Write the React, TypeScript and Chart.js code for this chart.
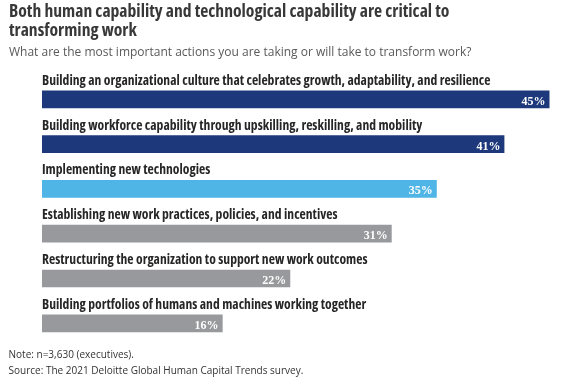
import React, { useEffect, useRef } from "react";
import { Chart, registerables } from "chart.js";

Chart.register(...registerables);

const titleLines = [
  "Both human capability and technological capability are critical to",
  "transforming work",
];
const subtitle =
  "What are the most important actions you are taking or will take to transform work?";
const categories = [
  "Building an organizational culture that celebrates growth, adaptability, and resilience",
  "Building workforce capability through upskilling, reskilling, and mobility",
  "Implementing new technologies",
  "Establishing new work practices, policies, and incentives",
  "Restructuring the organization to support new work outcomes",
  "Building portfolios of humans and machines working together",
];
const values = [45, 41, 35, 31, 22, 16];
const barColors = ["#1e397b", "#1e397b", "#4fb5e6", "#98999c", "#98999c", "#98999c"];
const notes = [
  "Note: n=3,630 (executives).",
  "Source: The 2021 Deloitte Global Human Capital Trends survey.",
];

const W = 577;
const H = 385;

function fit(ctx: CanvasRenderingContext2D, text: string, tpl: (s: number) => string, target: number) {
  ctx.font = tpl(100);
  const w = ctx.measureText(text).width;
  return (100 * target) / w;
}

const textPlugin = {
  id: "textPlugin",
  afterDatasetsDraw(chart: any) {
    const ctx: CanvasRenderingContext2D = chart.ctx;
    ctx.save();
    const cond = (weight: string) => (s: number) => `${weight} condensed ${s}px 'Open Sans'`;
    const reg = (s: number) => `normal ${s}px 'Open Sans'`;

    // title
    const ts = fit(ctx, titleLines[0], cond("bold"), 440.5);
    ctx.font = cond("bold")(ts);
    ctx.fillStyle = "#383838";
    ctx.textAlign = "left";
    ctx.textBaseline = "alphabetic";
    ctx.fillText(titleLines[0], 9, 16.7);
    ctx.fillText(titleLines[1], 9, 36);

    // subtitle
    const ss = fit(ctx, subtitle, reg, 462.5);
    ctx.font = reg(ss);
    ctx.fillStyle = "#595959";
    ctx.fillText(subtitle, 9, 55.7);

    // bar labels and values
    const meta = chart.getDatasetMeta(0);
    const ls = fit(ctx, categories[0], cond("bold"), 448.5);
    meta.data.forEach((bar: any, i: number) => {
      const top = bar.y - bar.height / 2;
      ctx.font = cond("bold")(ls);
      ctx.fillStyle = "#262626";
      ctx.textAlign = "left";
      ctx.fillText(categories[i], bar.base, top - 6);
      ctx.font = "bold 12px 'Liberation Serif'";
      ctx.fillStyle = "#ffffff";
      ctx.textAlign = "right";
      ctx.fillText(values[i] + "%", bar.x - 3.7, bar.y + 5.5);
    });

    // notes
    const ns = fit(ctx, notes[1], reg, 295);
    ctx.font = reg(ns);
    ctx.fillStyle = "#333333";
    ctx.textAlign = "left";
    ctx.fillText(notes[0], 8.5, 358);
    ctx.fillText(notes[1], 8.5, 373.5);
    ctx.restore();
  },
};

export default function App() {
  const ref = useRef<HTMLCanvasElement>(null);
  useEffect(() => {
    if (!ref.current) return;
    const chart = new Chart(ref.current, {
      type: "bar",
      data: {
        labels: categories,
        datasets: [
          {
            data: values,
            backgroundColor: barColors,
            barThickness: 17,
            borderWidth: 0,
          },
        ],
      },
      options: {
        indexAxis: "y",
        responsive: false,
        animation: false,
        devicePixelRatio: 1,
        layout: { padding: { left: 42, right: 5.3, top: 76.9, bottom: 39.3 } },
        scales: {
          x: { display: false, min: 0, max: 47 },
          y: { display: false },
        },
        plugins: { legend: { display: false }, tooltip: { enabled: false }, title: { display: false } },
      },
      plugins: [textPlugin],
    });
    return () => chart.destroy();
  }, []);
  return (
    <div style={{ position: "absolute", left: 0, top: 0, width: W, height: H, background: "#fff" }}>
      <canvas ref={ref} width={W} height={H} style={{ width: W, height: H, display: "block" }} />
    </div>
  );
}
